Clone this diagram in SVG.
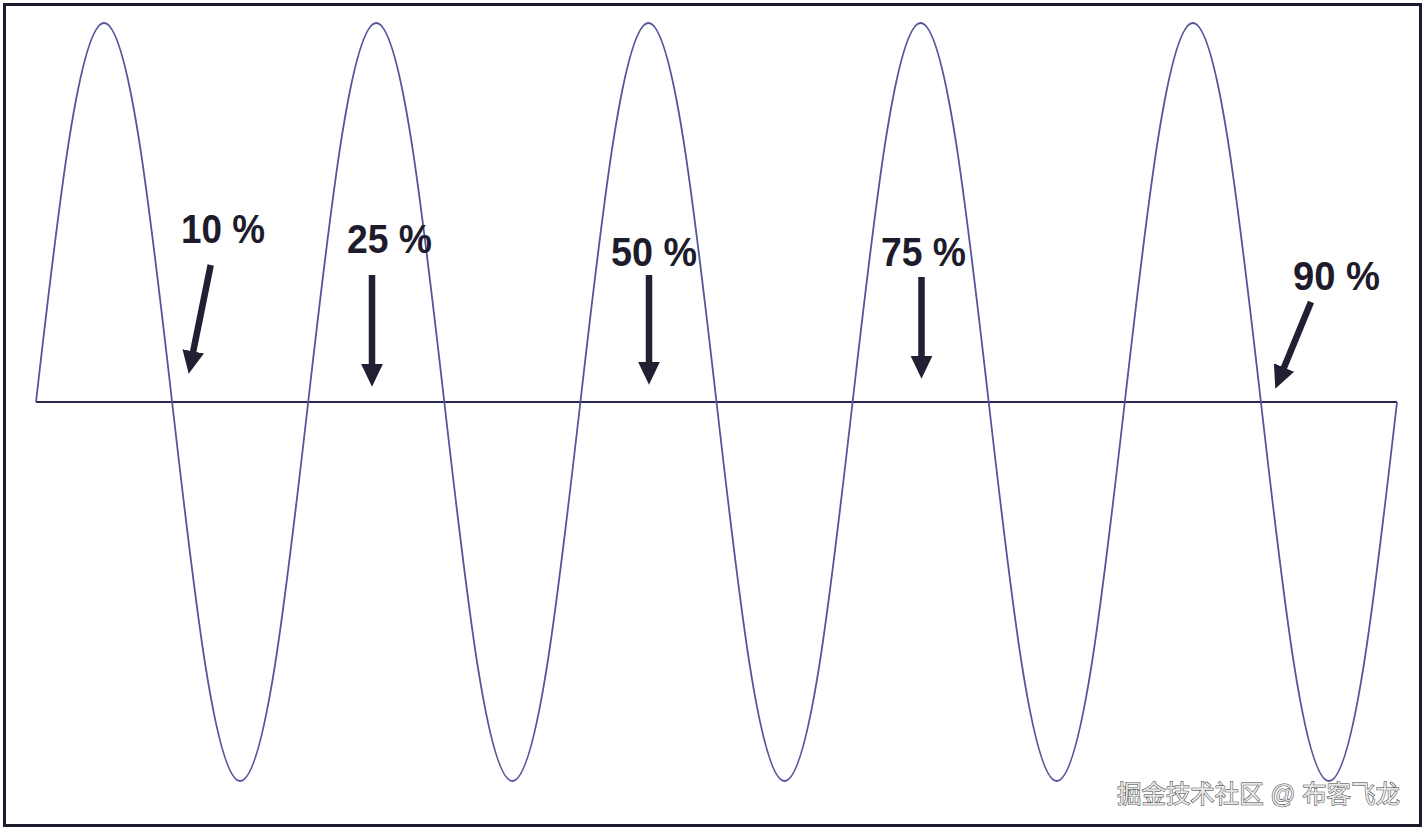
<svg xmlns="http://www.w3.org/2000/svg" width="1425" height="830" viewBox="0 0 1425 830">
<style>
.frame{fill:#ffffff;stroke:#1c1a2c;stroke-width:3}
.axis{stroke:#2a2850;stroke-width:2;fill:none}
.wave{stroke:#55559a;stroke-width:1.8;fill:none}
.shaft{stroke:#231f33;stroke-width:6.5;fill:none}
.lbl{font-family:"Liberation Sans",Arial,sans-serif;font-weight:bold;font-size:40px;fill:#1e1b2c}
.wm{font-family:"Liberation Sans","Noto Sans CJK SC",sans-serif;font-size:25px;fill:#e6e6e6;stroke:#3a3a3a;stroke-width:1;paint-order:stroke}
</style>
<defs>
<marker id="head" markerUnits="userSpaceOnUse" markerWidth="24" markerHeight="24" viewBox="0 -11 22 22" refX="1" refY="0" orient="auto">
<path d="M0,-10 L21,0 L0,10 z" fill="#231f33"/>
</marker>
</defs>
<rect class="frame" x="4.5" y="4.5" width="1416" height="821"/>
<g id="axis"><line class="axis" x1="36" y1="402" x2="1397" y2="402"/></g>
<g id="wave">
<path class="wave" d="M36,402
c22.19,-194.2 43.42,-379 68.05,-379 c24.63,0 45.86,184.8 68.05,379 c22.19,194.2 43.42,379 68.05,379 c24.63,0 45.86,-184.8 68.05,-379
c22.19,-194.2 43.42,-379 68.05,-379 c24.63,0 45.86,184.8 68.05,379 c22.19,194.2 43.42,379 68.05,379 c24.63,0 45.86,-184.8 68.05,-379
c22.19,-194.2 43.42,-379 68.05,-379 c24.63,0 45.86,184.8 68.05,379 c22.19,194.2 43.42,379 68.05,379 c24.63,0 45.86,-184.8 68.05,-379
c22.19,-194.2 43.42,-379 68.05,-379 c24.63,0 45.86,184.8 68.05,379 c22.19,194.2 43.42,379 68.05,379 c24.63,0 45.86,-184.8 68.05,-379
c22.19,-194.2 43.42,-379 68.05,-379 c24.63,0 45.86,184.8 68.05,379 c22.19,194.2 43.42,379 68.05,379 c24.63,0 45.86,-184.8 68.05,-379"/>
</g>
<g id="connectors">
<line class="shaft" x1="210.7" y1="265" x2="193" y2="352.4" marker-end="url(#head)"/>
<line class="shaft" x1="372" y1="275" x2="372" y2="365" marker-end="url(#head)"/>
<line class="shaft" x1="649" y1="275" x2="649" y2="363" marker-end="url(#head)"/>
<line class="shaft" x1="921.5" y1="277" x2="921.5" y2="357" marker-end="url(#head)"/>
<line class="shaft" x1="1311" y1="302" x2="1283.6" y2="368.5" marker-end="url(#head)"/>
</g>
<g id="label-10"><text class="lbl" x="181" y="243" textLength="84" lengthAdjust="spacingAndGlyphs">10 %</text></g>
<g id="label-25"><text class="lbl" x="347" y="253" textLength="85" lengthAdjust="spacingAndGlyphs">25 %</text></g>
<g id="label-50"><text class="lbl" x="611" y="266" textLength="86" lengthAdjust="spacingAndGlyphs">50 %</text></g>
<g id="label-75"><text class="lbl" x="881" y="266" textLength="85" lengthAdjust="spacingAndGlyphs">75 %</text></g>
<g id="label-90"><text class="lbl" x="1293" y="290" textLength="87" lengthAdjust="spacingAndGlyphs">90 %</text></g>
<g id="watermark"><text class="wm" x="1117" y="803" textLength="283" lengthAdjust="spacingAndGlyphs">掘金技术社区 @ 布客飞龙</text></g>
</svg>
